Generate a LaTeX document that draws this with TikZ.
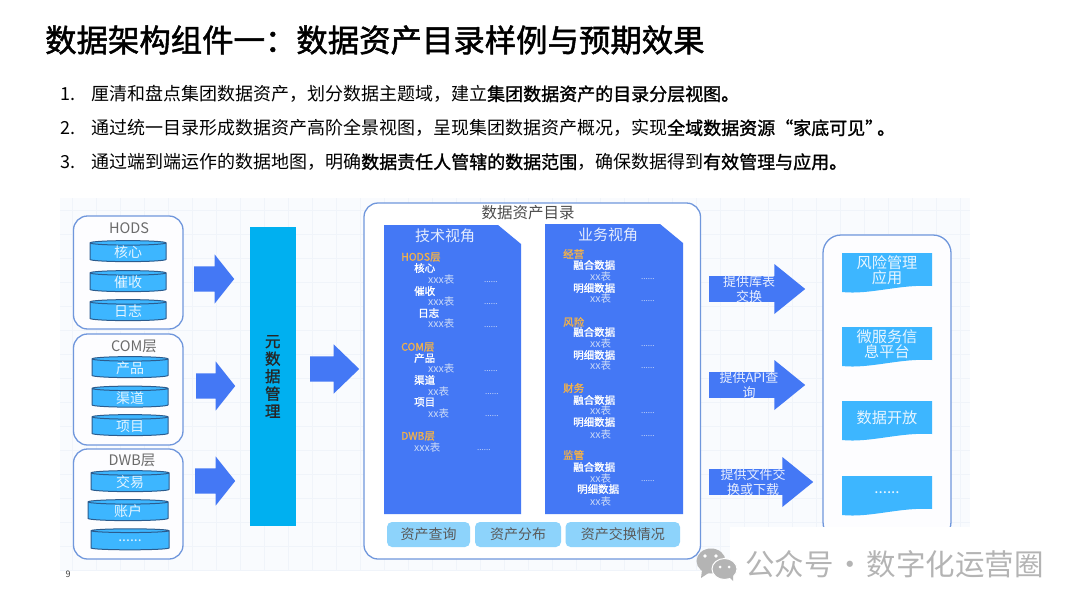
\documentclass[tikz,border=0pt]{standalone}
\usepackage{fontspec}
\setmainfont{Noto Sans CJK SC}
\newfontfamily\titlefont[FakeBold=1.6]{Noto Sans CJK SC}
\newfontfamily\strongfont[FakeBold=1.3]{Noto Sans CJK SC}
\usetikzlibrary{shapes.geometric,shapes.arrows}
\definecolor{bgpale}{HTML}{F9FBFE}
\definecolor{gridpale}{HTML}{F0F4FA}
\definecolor{frameblue}{HTML}{7097DC}
\definecolor{docblue}{HTML}{4478F5}
\definecolor{skyblue}{HTML}{3DB6FF}
\definecolor{barblue}{HTML}{00B0F0}
\definecolor{btnblue}{HTML}{8DD3FB}
\definecolor{layerorange}{HTML}{F0B04C}
\definecolor{paleblue}{HTML}{CBDAF7}
\definecolor{cylborder}{HTML}{2C5C8E}
\definecolor{markgray}{HTML}{B4B4B4}
\newcommand{\dotrun}{.{}.{}.{}.{}.{}.}
\newcommand{\strongtxt}[1]{{\strongfont #1}}
\tikzset{
  px/.style={font=\fontsize{#1}{#1}\selectfont},
  frame/.style={draw=frameblue, line width=1.3pt, rounded corners=14pt},
  cylbox/.style={cylinder, shape border rotate=90, aspect=0.16, draw=cylborder, line width=1pt,
    cylinder uses custom fill, cylinder body fill=skyblue, cylinder end fill=skyblue,
    inner sep=0pt, minimum width=#1, minimum height=21pt, text=white!85!skyblue, px=14},
  grouptxt/.style={text=black!58, px=14.5, inner sep=0pt},
  blockarrow/.style={single arrow, fill=docblue, inner sep=0pt, anchor=tail, text height=25pt, text depth=0pt,
    single arrow head extend=12pt, single arrow head indent=0pt},
  layertxt/.style={anchor=west, inner sep=0pt, text=layerorange, font=\fontsize{10.5}{10.5}\selectfont\strongfont},
  itemtxt/.style={anchor=west, inner sep=0pt, text=white, font=\fontsize{10.5}{10.5}\selectfont\strongfont},
  tabletxt/.style={anchor=west, inner sep=0pt, text=paleblue, px=10.5},
  dotstxt/.style={anchor=west, inner sep=0pt, text=paleblue, px=8},
  btnbox/.style={fill=btnblue, rounded corners=5pt, text=black!65, px=14, inner sep=0pt, minimum height=25pt},
  arrowtxt/.style={text=white!88!docblue, align=center, inner sep=0pt, font=\fontsize{13}{15}\selectfont},
  linetxt/.style={anchor=west, inner sep=0pt, px=18}
}
\begin{document}
\begin{tikzpicture}[x=1pt, y=-1pt]
  \useasboundingbox (0,0) rectangle (1080,608);
  \fill[white] (0,0) rectangle (1080,608);

  % Title and text lines
  \node[anchor=west, inner sep=0pt, font=\fontsize{31.4}{31.4}\selectfont\titlefont] (title) at (45,40) {数据架构组件一：数据资产目录样例与预期效果};
  \node[linetxt] (num1) at (60,94) {1.};
  \node[linetxt] (num2) at (60,128) {2.};
  \node[linetxt] (num3) at (60,162) {3.};
  \node[linetxt] (line1) at (91,94) {厘清和盘点集团数据资产，划分数据主题域，建立\strongtxt{集团数据资产的目录分层视图。}};
  \node[linetxt] (line2) at (91,128) {通过统一目录形成数据资产高阶全景视图，呈现集团数据资产概况，实现\strongtxt{全域数据资源“家底可见”\hspace{-6pt}。}};
  \node[linetxt] (line3) at (91,162) {通过端到端运作的数据地图，明确\strongtxt{数据责任人管辖的数据范围}，确保数据得到\strongtxt{有效管理与应用。}};

  % Pale grid behind the diagram
  \fill[bgpale] (60,198) rectangle (970,570);
  \begin{scope}
    \clip (60,198) rectangle (970,570);
    \foreach \x in {72,96,...,970} {
      \draw[gridpale, line width=0.5pt] (\x,198) -- (\x,570);
    }
    \foreach \y in {210,234,...,570} {
      \draw[gridpale, line width=0.5pt] (60,\y) -- (970,\y);
    }
  \end{scope}

  % Source layers
  \draw[frame, fill=white!60!bgpale] (73.5,216) rectangle (183,329);
  \draw[frame, fill=white!60!bgpale] (73.5,334) rectangle (183,445);
  \draw[frame, fill=white!60!bgpale] (73.5,449) rectangle (183,559);
  \node[grouptxt] (hods) at (129,228) {HODS};
  \node[grouptxt] (com) at (134,346) {COM层};
  \node[grouptxt] (dwb) at (132,460) {DWB层};
  \foreach \x/\y/\w/\name/\txt in {128/252.5/76/core/核心, 128/282.5/76/collect/催收, 128/311.5/76/log/日志,
    130/368.5/76/product/产品, 130/398/76/channel/渠道, 130/426.5/76/project/项目,
    130/482.5/78/trade/交易, 128/511.5/80/account/账户, 130/540.5/78/more/\dotrun} {
    \node[cylbox=\w] (\name) at (\x,\y) {\raisebox{-3pt}{\txt}};
  }

  % Metadata bar
  \node[fill=barblue, minimum width=45.5pt, minimum height=299pt, inner sep=0pt, align=center,
    font=\fontsize{15.5}{17.5}\selectfont\strongfont, text=black!85] (meta) at (272.75,376.5) {元\\数\\据\\管\\理};

  % Arrows into the bar and catalogue
  \node[blockarrow, minimum height=40pt, minimum width=49pt, single arrow tip angle=103] (in1) at (194,279) {};
  \node[blockarrow, minimum height=39pt, minimum width=49pt, single arrow tip angle=103] (in2) at (196,386) {};
  \node[blockarrow, minimum height=40pt, minimum width=49pt, single arrow tip angle=103] (in3) at (195,481) {};
  \node[blockarrow, minimum height=49pt, minimum width=48pt, single arrow tip angle=88] (in4) at (310,369) {};

  % Catalogue frame
  \draw[frame, fill=white] (364,203) rectangle (700.5,559);
  \node[text=black!70, px=15.5, inner sep=0pt] (catalog) at (528,213) {数据资产目录};

  % Two view sheets
  \fill[docblue] (384,225) -- (498,225) -- (521,244) -- (521,514) -- (384,514) -- cycle;
  \fill[docblue] (545,224) -- (660,224) -- (683,243) -- (683,514) -- (545,514) -- cycle;
  \node[text=white!85!docblue, px=15, inner sep=0pt] (techview) at (445,236) {技术视角};
  \node[text=white!85!docblue, px=15, inner sep=0pt] (bizview) at (608,235) {业务视角};

  % Technical view entries
  \foreach \x/\y/\txt in {401/257/HODS层, 401/347/COM层, 401/436/DWB层} {
    \node[layertxt] (tl\y) at (\x,\y) {\txt};
  }
  \foreach \x/\y/\txt in {414/268/核心, 414/291/催收, 418/313/日志, 414/358/产品, 414/380/渠道, 414/402/项目} {
    \node[itemtxt] (ti\y) at (\x,\y) {\txt};
  }
  \foreach \x/\y/\txt in {428/280/xxx表, 428/302/xxx表, 428/324/xxx表, 428/369/xxx表, 428/392/xx表, 428/414/xx表, 414/448/xxx表} {
    \node[tabletxt] (tt\y) at (\x,\y) {\txt};
  }
  \foreach \x/\y in {484/282, 484/304, 484/327, 484/371, 485/394, 485/416, 477/450} {
    \node[dotstxt] (td\y) at (\x,\y) {\dotrun};
  }

  % Business view entries
  \foreach \y/\txt in {254/经营, 322/风险, 388/财务, 455/监管} {
    \node[layertxt] (bl\y) at (563,\y) {\txt};
  }
  \foreach \x/\y/\txt in {573/265/融合数据, 573/288/明细数据, 573/332/融合数据, 573/355/明细数据,
    573/400/融合数据, 573/422/明细数据, 573/467/融合数据, 577/489/明细数据} {
    \node[itemtxt] (bi\y) at (\x,\y) {\txt};
  }
  \foreach \y in {277, 299, 344, 366, 411, 434, 478, 501} {
    \node[tabletxt] (bt\y) at (590,\y) {xx表};
  }
  \foreach \y in {279, 301, 346, 368, 413, 436, 481} {
    \node[dotstxt] (bd\y) at (641,\y) {\dotrun};
  }

  % Catalogue buttons
  \node[btnbox, minimum width=83pt] (query) at (428.5,534.5) {资产查询};
  \node[btnbox, minimum width=86pt] (spread) at (518,534.5) {资产分布};
  \node[btnbox, minimum width=114.5pt] (swap) at (622.75,534.5) {资产交换情况};

  % Arrows out of the catalogue
  \node[blockarrow, minimum height=96pt, minimum width=50pt, single arrow tip angle=78] (out1) at (709,289) {};
  \node[blockarrow, minimum height=96pt, minimum width=50pt, single arrow tip angle=78] (out2) at (709,385) {};
  \node[blockarrow, minimum height=104pt, minimum width=50pt, single arrow tip angle=78] (out3) at (709,482) {};
  \node[arrowtxt] (outtxt1) at (749,289) {提供库表\\交换};
  \node[arrowtxt] (outtxt2) at (749,385) {提供API查\\询};
  \node[arrowtxt] (outtxt3) at (753,482) {提供文件交\\换或下载};

  % Application frame and sheets
  \draw[frame, rounded corners=18pt, fill=white!60!bgpale] (823,235) rectangle (951,540);
  \foreach \y/\name/\txt in {253/risk/{风险管理\\应用}, 327/micro/{微服务信\\息平台}, 401/open/数据开放, 476/etc/\dotrun} {
    \fill[skyblue] (842,\y) -- (932,\y) -- (932,\y+33) .. controls +(-32,-2) and +(28,3) .. (842,\y+39) -- cycle;
    \node[text=white!88!skyblue, font=\fontsize{15.2}{15.5}\selectfont, align=center, inner sep=0pt] (\name) at (887,\y+17) {\txt};
  }

  % Page number and mark
  \fill[white] (730,527) rectangle (980,580);
  \node[px=9, text=black!75, inner sep=0pt] (page) at (68,574) {9};
  \fill[markgray] (711,561) ellipse [x radius=14.5pt, y radius=12.5pt];
  \fill[markgray] (702,570) -- (701,578) -- (710,572) -- cycle;
  \draw[white, fill=markgray, line width=1pt] (724.5,569) ellipse [x radius=12.5pt, y radius=10.5pt];
  \fill[markgray] (729,577) -- (733,581) -- (733,574) -- cycle;
  \foreach \x/\y/\r in {705/556/1.8, 716/556/1.8, 720/567/1.5, 729/567/1.5} {
    \fill[white] (\x,\y) circle (\r pt);
  }
  \node[anchor=west, inner sep=0pt, text=markgray, px=29.5] (mark) at (745,564) {公众号\makebox[33pt]{·}数字化运营圈};
\end{tikzpicture}
\end{document}
